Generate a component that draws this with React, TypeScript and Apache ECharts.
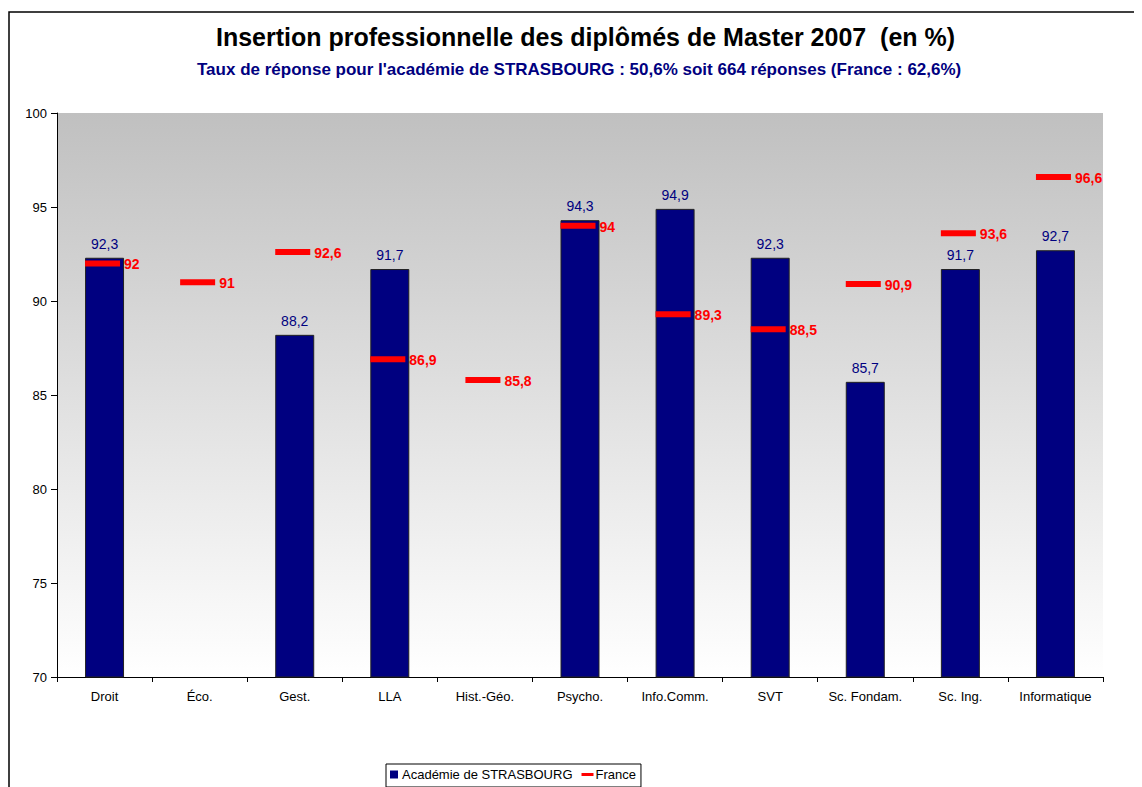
import React, { useEffect, useRef } from "react";
import * as echarts from "echarts";

const categories = [
  "Droit",
  "Éco.",
  "Gest.",
  "LLA",
  "Hist.-Géo.",
  "Psycho.",
  "Info.Comm.",
  "SVT",
  "Sc. Fondam.",
  "Sc. Ing.",
  "Informatique",
];
const strasbourg: (number | null)[] = [92.3, null, 88.2, 91.7, null, 94.3, 94.9, 92.3, 85.7, 91.7, 92.7];
const france: number[] = [92, 91, 92.6, 86.9, 85.8, 94, 89.3, 88.5, 90.9, 93.6, 96.6];
const yTicks = { min: 70, max: 100, interval: 5 };

const FONT = "Arial, 'Liberation Sans', sans-serif";
const fmt = (v: number) => String(v).replace(".", ",");

export default function App() {
  const ref = useRef<HTMLDivElement>(null);
  useEffect(() => {
    if (!ref.current) return;
    const chart = echarts.init(ref.current, null, { renderer: "svg" });
    chart.setOption({
      animation: false,
      backgroundColor: "#ffffff",
      textStyle: { fontFamily: FONT },
      title: [
        {
          text: "Insertion professionnelle des diplômés de Master 2007  (en %)",
          left: 203,
          top: 11,
          textStyle: { fontFamily: FONT, fontSize: 25, fontWeight: "bold", color: "#000000" },
        },
        {
          text: "Taux de réponse pour l'académie de STRASBOURG : 50,6% soit 664 réponses (France : 62,6%)",
          left: 184,
          top: 48,
          textStyle: { fontFamily: FONT, fontSize: 17, fontWeight: "bold", color: "#000080" },
        },
      ],
      graphic: [
        {
          type: "rect",
          x: 1,
          y: 4,
          shape: { x: 0, y: 0, width: 1200, height: 900 },
          style: { fill: "none", stroke: "#000000", lineWidth: 1.5 },
          silent: true,
          z: -10,
        },
      ],
      legend: {
        left: 378,
        top: 756,
        orient: "horizontal",
        borderColor: "#000000",
        borderWidth: 1,
        padding: [4, 5, 6, 4],
        itemGap: 9,
        itemWidth: 12,
        itemHeight: 8,
        symbolKeepAspect: true,
        itemStyle: { borderWidth: 0 },
        textStyle: { fontFamily: FONT, fontSize: 13, color: "#000000", padding: [0, 0, 0, -3] },
        data: [
          { name: "Académie de STRASBOURG", icon: "path://M0,0H7V7H0Z" },
          { name: "France", icon: "path://M0,0H12V3H0Z" },
        ],
      },
      grid: {
        left: 49,
        top: 105,
        right: 39,
        bottom: 110,
        show: true,
        borderWidth: 0,
        backgroundColor: new echarts.graphic.LinearGradient(0, 0, 0, 1, [
          { offset: 0, color: "#c0c0c0" },
          { offset: 0.6, color: "#e6e6e6" },
          { offset: 1, color: "#ffffff" },
        ]),
      },
      xAxis: {
        type: "category",
        data: categories,
        boundaryGap: true,
        axisLine: { lineStyle: { color: "#000000", width: 1 } },
        axisTick: { show: true, alignWithLabel: false, length: 5, lineStyle: { color: "#000000" } },
        axisLabel: { fontFamily: FONT, fontSize: 13, color: "#000000", margin: 13, interval: 0 },
      },
      yAxis: {
        type: "value",
        min: yTicks.min,
        max: yTicks.max,
        interval: yTicks.interval,
        axisLine: { show: true, lineStyle: { color: "#000000", width: 1 } },
        axisTick: { show: true, length: 6, lineStyle: { color: "#000000" } },
        splitLine: { show: false },
        axisLabel: { fontFamily: FONT, fontSize: 13, color: "#000000", margin: 10 },
      },
      series: [
        {
          name: "Académie de STRASBOURG",
          type: "bar",
          data: strasbourg.map((v) => (v === null ? "-" : v)),
          barWidth: "41%",
          itemStyle: { color: "#000080", borderColor: "#222222", borderWidth: 1 },
          label: {
            show: true,
            position: "top",
            distance: 7,
            fontFamily: FONT,
            fontSize: 14,
            color: "#000080",
            formatter: (p: any) => fmt(p.value),
          },
          z: 2,
        },
        {
          name: "France",
          type: "scatter",
          data: france,
          symbol: "rect",
          symbolSize: [35, 6],
          symbolOffset: [-2, 0],
          itemStyle: { color: "#ff0000", opacity: 1 },
          label: {
            show: true,
            position: "right",
            distance: 4,
            offset: [0, 1],
            fontFamily: FONT,
            fontSize: 14,
            fontWeight: "bold",
            color: "#ff0000",
            formatter: (p: any) => fmt(p.value),
          },
          z: 5,
        },
      ],
    });
    return () => chart.dispose();
  }, []);
  return <div ref={ref} style={{ width: 1134, height: 779 }} />;
}
